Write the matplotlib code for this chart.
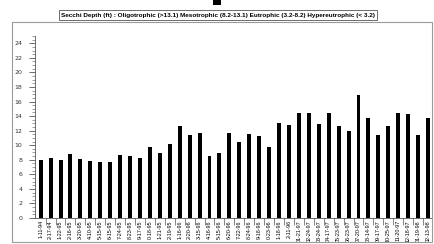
import numpy as np
import matplotlib
matplotlib.use("Agg")
from matplotlib import pyplot as plt
from matplotlib.patches import Rectangle
from matplotlib.ticker import MultipleLocator

fechas = ["1-11-94", "2-17-94", "1-22-95", "2-16-95", "3-20-95", "4-10-95",
          "5-15-95", "6-15-95", "7-24-95", "8-23-95", "9-17-95", "0-18-95",
          "1-21-95", "2-19-95", "1-16-96", "2-20-96", "3-15-96", "4-16-96",
          "5-15-96", "6-20-96", "7-22-96", "8-24-96", "9-18-96", "0-23-96",
          "1-18-96", "2-11-96", "01-21-97", "02-24-97", "03-24-97", "04-17-97",
          "05-23-97", "06-23-97", "07-20-97", "08-14-97", "09-17-97", "10-25-97",
          "11-20-97", "12-18-97", "01-19-98", "02-13-98"]

secchi = [7.95, 8.3, 8.0, 8.75, 8.15, 7.8, 7.75, 7.75, 8.6, 8.45,
          8.3, 9.75, 8.9, 10.2, 12.7, 11.35, 11.7, 8.55, 8.9, 11.7,
          10.4, 11.6, 11.25, 9.8, 13.1, 12.8, 14.4, 14.4, 12.9, 14.4,
          12.6, 11.9, 16.85, 13.7, 11.35, 12.7, 14.4, 14.3, 11.45, 13.7]

titulo = ("Secchi Depth (ft) : Oligotrophic (>13.1) Mesotrophic (8.2-13.1) "
          "Eutrophic (3.2-8.2) Hypereutrophic (< 3.2)")

W, H = 435.0, 244.0
fig = plt.figure(figsize=(W / 100, H / 100), dpi=100)

# marco exterior gris y el cuadrito negro de arriba
fig.patches.append(Rectangle((12 / W, 2 / H), 420 / W, 220 / H, transform=fig.transFigure,
                             fill=False, edgecolor="#9a9a9a", linewidth=0.8))
fig.patches.append(Rectangle((213 / W, 1 - 5 / H), 8 / W, 5 / H, transform=fig.transFigure,
                             facecolor="black", edgecolor="none"))

ax = fig.add_axes([35 / W, (H - 218) / H, 397 / W, 182 / H])
x = np.arange(len(secchi))
ax.bar(x, secchi, width=0.4, color="black")

ax.set_xlim(-0.57, 39.4)
ax.set_ylim(0, 25)

for lado in ["top", "right"]:
    ax.spines[lado].set_visible(False)
ax.spines["left"].set_linewidth(0.6)
ax.spines["bottom"].set_linewidth(0.6)
ax.spines["left"].set_color("#555555")
ax.spines["bottom"].set_color("#555555")

ax.set_yticks(np.arange(0, 25, 2))
ax.yaxis.set_minor_locator(MultipleLocator(0.5))
ax.tick_params(axis="y", which="major", length=4, width=0.5, labelsize=4.5, pad=5,
               colors="#333333")
ax.tick_params(axis="y", which="minor", length=2, width=0.4, colors="#555555")

ax.set_xticks(x)
ax.set_xticklabels(fechas, rotation=90, fontsize=3.9, family="Liberation Sans")
ax.set_xticks(x[:-1] + 0.5, minor=True)
ax.tick_params(axis="x", which="major", length=0, pad=1.5)
ax.tick_params(axis="x", which="minor", length=5, width=0.5, colors="#555555")

fig.text(218 / W, 1 - 15 / H, titulo, ha="center", va="center", fontsize=4.6,
         fontweight="bold", family="Liberation Sans",
         bbox=dict(boxstyle="square,pad=0.35", facecolor="white",
                   edgecolor="#555555", linewidth=0.6))

fig.savefig("out.png", dpi=100)
